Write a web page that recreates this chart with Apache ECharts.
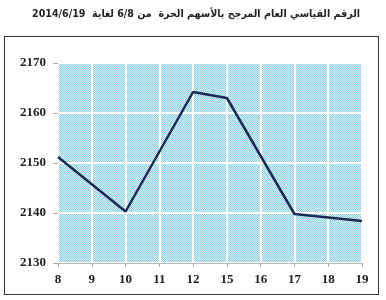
<!DOCTYPE html>
<html><head><meta charset="utf-8">
<script src="https://cdn.jsdelivr.net/npm/echarts@6/dist/echarts.min.js"></script>
<style>html,body{margin:0;padding:0;background:#fff}#c{width:386px;height:300px;position:relative}
#box{position:absolute;left:4px;top:36px;width:375px;height:259px;border:1.5px solid #333;box-sizing:border-box;pointer-events:none}</style>
</head><body><div id="c"></div><div id="box"></div>
<script>
var titleText = 'الرقم القياسي العام المرجح بالأسهم الحرة  من 6/8 لغاية  2014/6/19';
var categories = ['8','9','10','11','12','15','16','17','18','19'];
var values = [2151.2, null, 2140.3, null, 2164.2, 2163.0, null, 2139.8, null, 2138.4];
var yTicks = [2130, 2140, 2150, 2160, 2170];

var pc = document.createElement('canvas'); pc.width = 2; pc.height = 2;
var px = pc.getContext('2d');
px.fillStyle = '#d6eff6'; px.fillRect(0,0,2,2);
px.fillStyle = '#92d1e2'; px.fillRect(0,0,1,1); px.fillRect(1,1,1,1);

var chart = echarts.init(document.getElementById('c'), null, {renderer:'canvas'});
var serif = 'Liberation Serif';
chart.setOption({
  animation:false,
  title:{text:titleText, right:21, top:4, textStyle:{fontFamily:'DejaVu Sans Condensed', fontSize:10.6, fontWeight:'bold', color:'#222'}},
  grid:{left:58, right:24, top:63, bottom:37, show:true, borderWidth:0, backgroundColor:{image:pc, repeat:'repeat'}},
  xAxis:{type:'category', data:categories, boundaryGap:false,
    axisLine:{lineStyle:{color:'#bbb', width:1}},
    axisTick:{show:true, length:4, lineStyle:{color:'#aaa'}},
    axisLabel:{fontFamily:serif, fontWeight:'bold', fontSize:13, color:'#222', margin:10},
    splitLine:{show:true, lineStyle:{color:'#fff', width:2}}},
  yAxis:{type:'value', min:yTicks[0], max:yTicks[yTicks.length-1], interval:10,
    axisLine:{show:false},
    axisTick:{show:true, length:5, lineStyle:{color:'#aaa'}},
    axisLabel:{fontFamily:serif, fontWeight:'bold', fontSize:13, color:'#222', margin:12, formatter:function(v){return String(v);}},
    splitLine:{show:true, lineStyle:{color:'#fff', width:2}}},
  series:[{type:'line', data:values, connectNulls:true, symbol:'none',
    lineStyle:{color:'#1a2b55', width:2.5}}]
});
</script></body></html>
